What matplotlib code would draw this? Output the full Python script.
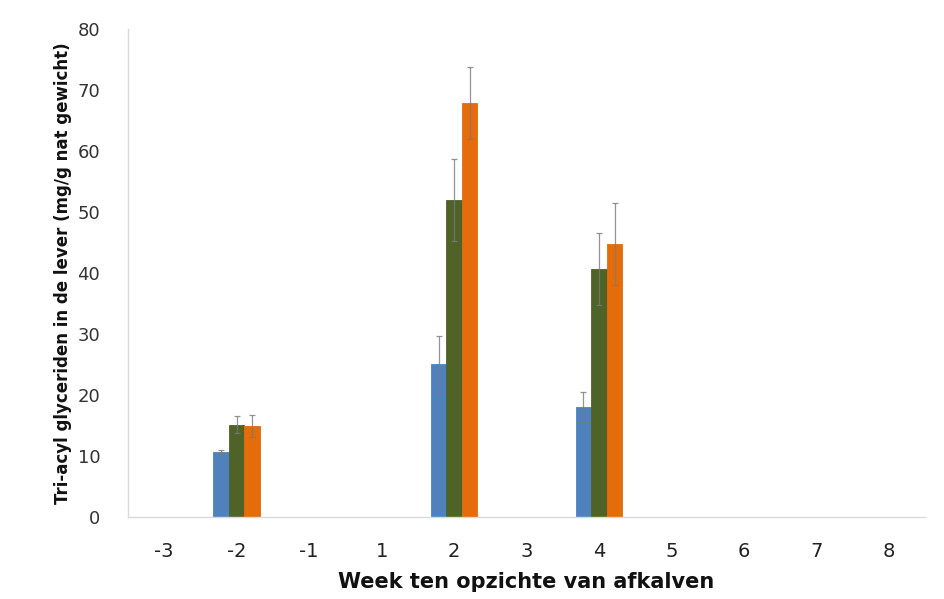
import numpy as np
import matplotlib
matplotlib.use("Agg")
import matplotlib.pyplot as plt
from matplotlib import font_manager

weeks = ["-3", "-2", "-1", "1", "2", "3", "4", "5", "6", "7", "8"]

# Mean values per week (NaN = no measurement)
blue_vals = [np.nan, 10.7, np.nan, np.nan, 25.0, np.nan, 18.0, np.nan, np.nan, np.nan, np.nan]
green_vals = [np.nan, 15.1, np.nan, np.nan, 52.0, np.nan, 40.6, np.nan, np.nan, np.nan, np.nan]
orange_vals = [np.nan, 14.9, np.nan, np.nan, 67.9, np.nan, 44.8, np.nan, np.nan, np.nan, np.nan]

# Standard errors
blue_err = [0, 0.3, 0, 0, 4.6, 0, 2.5, 0, 0, 0, 0]
green_err = [0, 1.4, 0, 0, 6.7, 0, 5.9, 0, 0, 0, 0]
orange_err = [0, 1.8, 0, 0, 5.9, 0, 6.7, 0, 0, 0, 0]

y_ticks = [0, 10, 20, 30, 40, 50, 60, 70, 80]

names = {f.name for f in font_manager.fontManager.ttflist}
narrow = "Liberation Sans Narrow" if "Liberation Sans Narrow" in names else "DejaVu Sans Condensed"

fig = plt.figure(figsize=(9.44, 5.99), dpi=100)
ax = fig.add_axes([0.1356, 0.1369, 0.8444, 0.8147])

x = np.arange(len(weeks))
w = 0.215
series = [
    (blue_vals, blue_err, "#4f81bd"),
    (green_vals, green_err, "#4f6228"),
    (orange_vals, orange_err, "#e46c0a"),
]
for i, (vals, err, col) in enumerate(series):
    vals = np.array(vals, dtype=float)
    err = np.array(err, dtype=float)
    mask = ~np.isnan(vals)
    xpos = x[mask] + (i - 1) * w
    ax.bar(xpos, vals[mask], width=w, color=col, edgecolor=col, linewidth=0.6, zorder=2)
    ax.errorbar(xpos, vals[mask], yerr=err[mask], fmt="none", ecolor="#7a7a7a",
                elinewidth=0.9, capsize=2.5, capthick=0.9, alpha=0.8, zorder=3)

ax.set_xlim(-0.5, len(weeks) - 0.5)
ax.set_ylim(0, 80)
ax.set_yticks(y_ticks)
ax.set_yticklabels([str(t) for t in y_ticks], fontsize=13, color="#333333", family="DejaVu Sans")
ax.set_xticks(x)
ax.set_xticklabels(weeks, fontsize=14, color="#222222", family=narrow)
ax.tick_params(axis="both", length=0)
ax.tick_params(axis="y", pad=20)
ax.tick_params(axis="x", pad=18)

for s in ["top", "right"]:
    ax.spines[s].set_visible(False)
ax.spines["left"].set_color("#d9d9d9")
ax.spines["bottom"].set_color("#d9d9d9")
ax.spines["left"].set_linewidth(1.0)
ax.spines["bottom"].set_linewidth(1.0)

ax.set_xlabel("Week ten opzichte van afkalven", fontsize=15, fontweight="bold",
              family=narrow, color="#111111", labelpad=8)
ax.set_ylabel("Tri-acyl glyceriden in de lever (mg/g nat gewicht)", fontsize=12,
              fontweight="bold", family=narrow, color="#111111", labelpad=4)

fig.savefig("out.png", dpi=100)
